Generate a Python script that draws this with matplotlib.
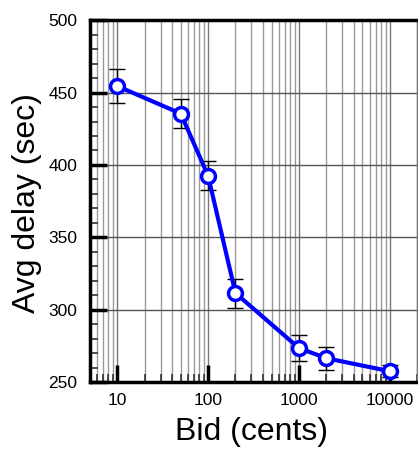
import numpy as np
import matplotlib
matplotlib.use("Agg")
import matplotlib.pyplot as plt
from matplotlib.ticker import LogLocator, FixedLocator, MultipleLocator, NullFormatter

plt.rcParams['font.family'] = ['Liberation Sans', 'DejaVu Sans']

# data
bids = [10, 50, 100, 200, 1000, 2000, 10000]
avg_delay = [454.5, 435.5, 392.5, 311.5, 273.5, 266.5, 257.5]
delay_err = [12, 10, 10, 10, 9, 8, 4]

xticks = [10, 100, 1000, 10000]
xtick_labels = ["10", "100", "1000", "10000"]
yticks = [250, 300, 350, 400, 450, 500]

fig = plt.figure(figsize=(4.18, 4.49), dpi=100)
ax = fig.add_axes([0.215, 0.149, 0.783, 0.806])

# error bars first so the white markers sit on top
ax.errorbar(bids, avg_delay, yerr=delay_err, fmt='none', ecolor='black',
            elinewidth=1, capsize=6, capthick=1, zorder=3)
ax.plot(bids, avg_delay, color='#0000ff', linewidth=3, marker='o',
        markersize=10, markerfacecolor='white', markeredgecolor='#0000ff',
        markeredgewidth=2.5, zorder=4, clip_on=False)

ax.set_xscale('log')
ax.set_xlim(5, 20000)
ax.set_ylim(250, 500)

ax.xaxis.set_major_locator(FixedLocator(xticks))
ax.set_xticklabels(xtick_labels)
ax.xaxis.set_minor_locator(LogLocator(base=10, subs=np.arange(2, 10), numticks=20))
ax.xaxis.set_minor_formatter(NullFormatter())
ax.yaxis.set_major_locator(FixedLocator(yticks))
ax.yaxis.set_minor_locator(MultipleLocator(10))

# grid: vertical at every log tick, horizontal only at the 50s
ax.grid(True, which='major', axis='x', color='#777777', linewidth=1)
ax.grid(True, which='minor', axis='x', color='#999999', linewidth=1)
ax.grid(True, which='major', axis='y', color='#555555', linewidth=1)
ax.set_axisbelow(True)

ax.tick_params(axis='both', which='major', direction='in', length=12, width=2.5,
               labelsize=12.5, color='black')
ax.tick_params(axis='x', which='major', pad=8)
ax.tick_params(axis='y', which='major', pad=9)
ax.tick_params(axis='both', which='minor', direction='in', length=6, width=1.2,
               color='#333333')
ax.tick_params(top=False, right=False, which='both')

for side in ['left', 'bottom', 'top']:
    ax.spines[side].set_linewidth(2.5)
    ax.spines[side].set_color('black')
ax.spines['right'].set_linewidth(1)
ax.spines['right'].set_color('#777777')

ax.set_xlabel("Bid (cents)", fontsize=23, va='center')
ax.set_ylabel("Avg delay (sec)", fontsize=23, va='center')
ax.xaxis.set_label_coords(0.495, -0.138)
ax.yaxis.set_label_coords(-0.193, 0.496)

fig.savefig("out.png", dpi=100)
